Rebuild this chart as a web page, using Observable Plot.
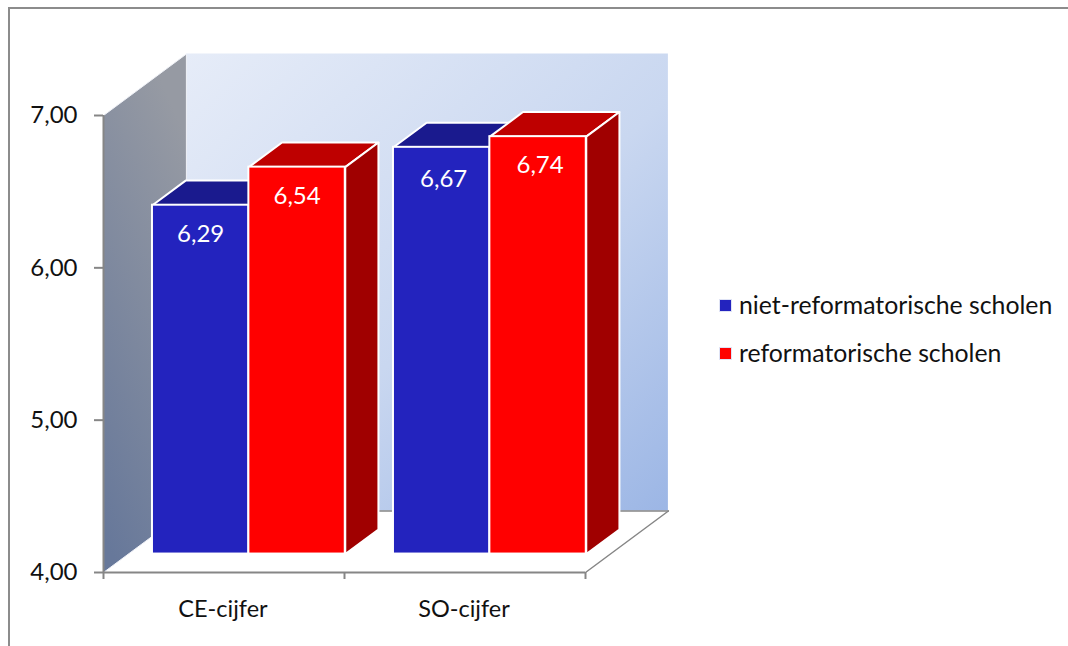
<!DOCTYPE html>
<html>
<head>
<meta charset="utf-8">
<script src="https://cdn.jsdelivr.net/npm/d3@7"></script>
<script src="https://cdn.jsdelivr.net/npm/@observablehq/plot@0.6"></script>
<style>
html,body{margin:0;padding:0;background:#fff;width:1068px;height:646px;overflow:hidden}
#frame{position:absolute;left:8px;top:7px;width:1060px;height:639px;border-left:2px solid #8c8c8c;border-top:2px solid #8c8c8c;box-sizing:border-box}
#chart{position:absolute;left:0;top:0}
#legend{position:absolute;left:717px;top:289px;font:24.8px Lato,sans-serif;color:#111}
#legend div{position:absolute;white-space:nowrap;left:22px}
#legend i{position:absolute;left:-20px;width:13px;height:13px;border:0.5px solid #dfe3f5;box-sizing:border-box}
</style>
</head>
<body>
<div id="frame"></div>
<div id="chart"></div>
<div id="legend"></div>
<script>
const categories = ["CE-cijfer", "SO-cijfer"];
const seriesNames = ["niet-reformatorische scholen", "reformatorische scholen"];
const nietReformatorisch = [6.29, 6.67];
const reformatorisch = [6.54, 6.74];
const yTicks = [4, 5, 6, 7];
const frontColors = ["#2323BE", "#FF0000"];
const topColors = ["#1A1A8E", "#BE0000"];
const sideColors = ["#161678", "#A00000"];
const seriesValues = [nietReformatorisch, reformatorisch];

const baseValue = 4, maxValue = 7;
// oblique projection: one unit of depth moves a point this far in data units
const depthX = 0.344, depthY = 0.4037;
const project = (pos, value, depth) => ({x: pos + depth * depthX, y: value + depth * depthY});
const barFront = 0.3, barBack = 0.7, catGap = 0.1, barWidth = 0.4;

const bars = categories.flatMap((cat, c) => seriesValues.map((vals, s) => {
  const x1 = c + catGap + s * barWidth, x2 = x1 + barWidth, v = vals[c];
  return {cat, s, c, v, x1, x2};
}));
const poly = (fill, pts) => [...pts, pts[0]].map(p => ({fill, ...p}));
const faceStyle = {x: "x", y: "y", fill: "fill", stroke: "white", strokeWidth: 2, strokeLinejoin: "round"};
const barMarks = bars.flatMap(b => {
  const a = project(b.x1, baseValue, barFront), c = project(b.x2, b.v, barFront);
  const top = poly(topColors[b.s], [project(b.x1, b.v, barFront), project(b.x2, b.v, barFront), project(b.x2, b.v, barBack), project(b.x1, b.v, barBack)]);
  const side = poly(sideColors[b.s], [project(b.x2, baseValue, barFront), project(b.x2, b.v, barFront), project(b.x2, b.v, barBack), project(b.x2, baseValue, barBack)]);
  return [
    Plot.line(top, faceStyle),
    Plot.line(side, faceStyle),
    Plot.rect([b], {x1: () => a.x, x2: () => c.x, y1: () => a.y, y2: () => c.y, fill: frontColors[b.s], stroke: "white", strokeWidth: 2})
  ];
});
const wallLeft = [project(0, baseValue, 0), project(0, maxValue, 0), project(0, maxValue, 1), project(0, baseValue, 1)];
const backA = project(0, baseValue, 1), backB = project(2, maxValue, 1);
const floorEdge = [project(2, baseValue, 0), project(2, baseValue, 1)];
const backEdge = [project(0, baseValue, 1), project(2, baseValue, 1)];
const fmt = v => v.toFixed(2).replace(".", ",");
const font = "Lato, sans-serif";
const axisGray = "#868686";

function defs() {
  const d = d3.create("svg:defs");
  const g1 = d.append("linearGradient").attr("id", "backGrad").attr("x1", 0).attr("y1", 0).attr("x2", 1).attr("y2", 1);
  g1.append("stop").attr("offset", 0).attr("stop-color", "#E6ECF8");
  g1.append("stop").attr("offset", 0.55).attr("stop-color", "#C9D7F0");
  g1.append("stop").attr("offset", 1).attr("stop-color", "#9CB6E5");
  const g2 = d.append("linearGradient").attr("id", "wallGrad").attr("x1", 0.55).attr("y1", 0).attr("x2", 0.2).attr("y2", 1);
  g2.append("stop").attr("offset", 0).attr("stop-color", "#969AA3");
  g2.append("stop").attr("offset", 1).attr("stop-color", "#67789A");
  return d.node();
}

const plot = Plot.plot({
  width: 1068, height: 646,
  marginLeft: 103, marginRight: 483, marginTop: 115, marginBottom: 74,
  x: {domain: [0, 2], axis: null},
  y: {domain: [baseValue, maxValue], axis: null},
  color: {type: "identity"},
  style: {background: "transparent", overflow: "visible"},
  marks: [
    defs,
    Plot.rect([0], {x1: () => backA.x, x2: () => backB.x, y1: () => backA.y, y2: () => backB.y, fill: "url(#backGrad)"}),
    Plot.line([...wallLeft, wallLeft[0]], {x: "x", y: "y", fill: "url(#wallGrad)", stroke: "#f0f2f8", strokeWidth: 1}),
    Plot.line(floorEdge, {x: "x", y: "y", stroke: axisGray, strokeWidth: 1.5}),
    Plot.line(backEdge, {x: "x", y: "y", stroke: axisGray, strokeWidth: 1.5}),
    ...barMarks,
    Plot.ruleY([baseValue], {stroke: axisGray, strokeWidth: 2}),
    Plot.ruleX([0], {y1: baseValue, y2: maxValue, stroke: axisGray, strokeWidth: 2}),
    Plot.axisY({ticks: yTicks, tickFormat: fmt, tickSize: 9, tickPadding: 17, stroke: axisGray, strokeWidth: 2, fontSize: 24, fontFamily: font, fill: "#111", label: null}),
    Plot.axisX({ticks: [0, 1, 2], tickFormat: () => "", tickSize: 7, stroke: axisGray, strokeWidth: 2, label: null}),
    Plot.text(categories, {x: (d, i) => i + 0.5, y: () => baseValue, dy: 37, dx: -1, text: d => d, fontSize: 23.5, fontFamily: font, fill: "#111"}),
    Plot.text(bars.filter(b => b.c === 0), {x: d => (d.x1 + d.x2) / 2 + barFront * depthX, y: d => d.v + barFront * depthY, dy: 29, text: d => fmt(d.v), fill: "white", fontSize: 24, fontFamily: font}),
    Plot.text(bars.filter(b => b.c === 1 && b.s === 0), {x: d => (d.x1 + d.x2) / 2 + barFront * depthX, y: d => d.v + barFront * depthY, dy: 32, dx: 2, text: d => fmt(d.v), fill: "white", fontSize: 24, fontFamily: font}),
    Plot.text(bars.filter(b => b.c === 1 && b.s === 1), {x: d => (d.x1 + d.x2) / 2 + barFront * depthX, y: d => d.v + barFront * depthY, dy: 29, dx: 2, text: d => fmt(d.v), fill: "white", fontSize: 24, fontFamily: font})
  ]
});
document.getElementById("chart").append(plot);

const legend = document.getElementById("legend");
seriesNames.forEach((name, i) => {
  const row = document.createElement("div");
  row.style.top = (i * 48 + 1) + "px";
  const sw = document.createElement("i");
  sw.style.background = frontColors[i];
  sw.style.top = "9px";
  row.append(sw, name);
  legend.append(row);
});
</script>
</body>
</html>
